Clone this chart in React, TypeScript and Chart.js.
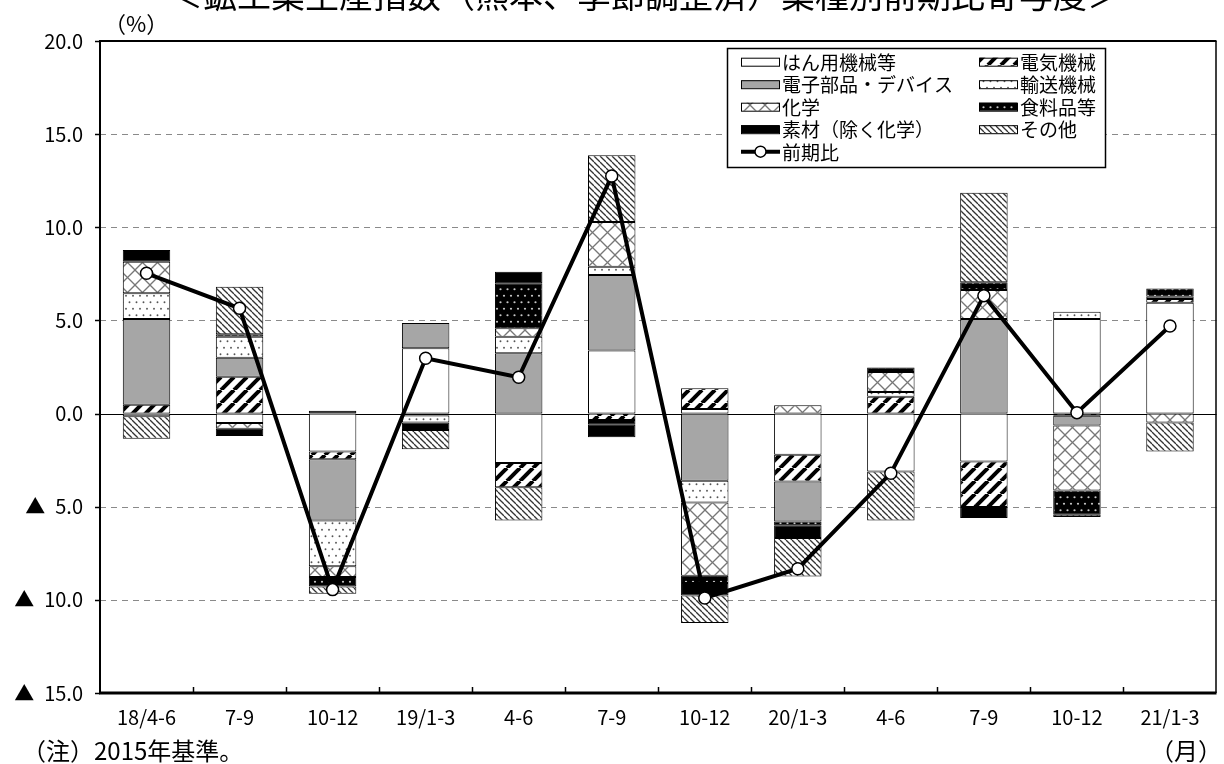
import React, { useEffect, useRef } from 'react';
import { Chart, registerables } from 'chart.js';

Chart.register(...registerables);

const FONT = '"Noto Sans CJK JP", "Noto Sans", sans-serif';

const categories = ['18/4-6', '7-9', '10-12', '19/1-3', '4-6', '7-9', '10-12', '20/1-3', '4-6', '7-9', '10-12', '21/1-3'];

const generalMachinery = [-0.15, -0.51, -2.04, 3.51, -2.66, 3.38, 0.24, -2.21, -3.11, -2.57, 5.08, 5.95];
const electrical = [0.47, 1.98, -0.41, -0.1, -1.29, -0.35, 1.12, -1.44, 0.9, -2.45, -0.12, 0.2];
const electronics = [4.61, 1.02, -3.29, 1.35, 3.24, 4.06, -3.61, -2.14, 0, 5.08, -0.52, 0];
const transport = [1.38, 1.13, -2.46, -0.38, 0.89, 0.44, -1.16, 0, 0.26, 0, 0.39, 0.12];
const chemicals = [1.69, -0.3, -0.57, 0, 0.45, 2.41, -3.93, 0.45, 1.07, 1.55, -3.49, -0.48];
const food = [0, 0.13, -0.51, 0, 2.41, -0.25, -0.39, -0.2, 0.24, 0.42, -1.3, 0.45];
const materials = [0.63, -0.4, 0.15, -0.4, 0.62, -0.67, -0.68, -0.69, 0, -0.59, 0, 0];
const others = [-1.2, 2.55, -0.39, -1.03, -1.79, 3.58, -1.47, -2.06, -2.63, 4.8, -0.12, -1.56];
const totalChange = [7.53, 5.65, -9.45, 2.97, 1.95, 12.75, -9.9, -8.33, -3.2, 6.33, 0.05, 4.7];

const seriesNames = ['はん用機械等', '電気機械', '電子部品・デバイス', '輸送機械', '化学', '食料品等', '素材（除く化学）', 'その他'];
const lineName = '前期比';
const yMin = -15;
const yMax = 20;
const yStep = 5;
const dashedGridValues = [15, 10, 5, -5, -10];

const titleText = '＜鉱工業生産指数（熊本、季節調整済）業種別前期比寄与度＞';
const unitText = '（%）';
const noteText = '（注）2015年基準。';
const monthText = '（月）';

type PatKind = 'white' | 'stripe' | 'gray' | 'dots' | 'cross' | 'darkdots' | 'black' | 'thin';

function makePattern(ctxRef: CanvasRenderingContext2D, kind: PatKind): CanvasPattern | string {
  if (kind === 'white') return '#ffffff';
  if (kind === 'gray') return '#a6a6a6';
  if (kind === 'black') return '#000000';
  const c = document.createElement('canvas');
  const g = c.getContext('2d') as CanvasRenderingContext2D;
  if (kind === 'stripe') {
    const s = 13;
    c.width = s; c.height = s;
    g.fillStyle = '#fff'; g.fillRect(0, 0, s, s);
    g.strokeStyle = '#000'; g.lineWidth = 4;
    for (const k of [-1, 0, 1]) {
      g.beginPath(); g.moveTo(k * s, s); g.lineTo(k * s + s, 0); g.stroke();
    }
  } else if (kind === 'thin') {
    const s = 6;
    c.width = s; c.height = s;
    g.fillStyle = '#fff'; g.fillRect(0, 0, s, s);
    g.strokeStyle = '#333'; g.lineWidth = 1.3;
    for (const k of [-1, 0, 1]) {
      g.beginPath(); g.moveTo(k * s, 0); g.lineTo(k * s + s, s); g.stroke();
    }
  } else if (kind === 'cross') {
    const s = 15;
    c.width = s; c.height = s;
    g.fillStyle = '#fff'; g.fillRect(0, 0, s, s);
    g.strokeStyle = '#777'; g.lineWidth = 1.3;
    for (const k of [-1, 0, 1]) {
      g.beginPath(); g.moveTo(k * s, 0); g.lineTo(k * s + s, s); g.stroke();
      g.beginPath(); g.moveTo(k * s, s); g.lineTo(k * s + s, 0); g.stroke();
    }
  } else if (kind === 'dots' || kind === 'darkdots') {
    const w = 7, h = 13;
    c.width = w; c.height = h;
    g.fillStyle = kind === 'dots' ? '#fff' : '#000';
    g.fillRect(0, 0, w, h);
    g.fillStyle = kind === 'dots' ? '#555' : '#c8c8c8';
    const r = kind === 'dots' ? 0.95 : 1.1;
    for (const [px, py] of [[3.5, 3.25], [0, 9.75], [7, 9.75]]) {
      g.beginPath(); g.arc(px, py, r, 0, Math.PI * 2); g.fill();
    }
  }
  return ctxRef.createPattern(c, 'repeat') as CanvasPattern;
}

const patternKinds: PatKind[] = ['white', 'stripe', 'gray', 'dots', 'cross', 'darkdots', 'black', 'thin'];
const seriesData = [generalMachinery, electrical, electronics, transport, chemicals, food, materials, others];

export default function App() {
  const ref = useRef<HTMLCanvasElement | null>(null);

  useEffect(() => {
    const canvas = ref.current;
    if (!canvas) return;
    const ctx0 = canvas.getContext('2d') as CanvasRenderingContext2D;
    const fills = patternKinds.map((k) => makePattern(ctx0, k));

    const barDatasets = seriesNames.map((name, i) => ({
      type: 'bar' as const,
      label: name,
      data: seriesData[i].map((v) => (v === 0 ? null : v)),
      backgroundColor: fills[i],
      borderColor: '#000',
      borderWidth: 1,
      borderSkipped: false,
      barPercentage: 0.51,
      categoryPercentage: 1,
      order: 1,
    }));

    const lineDataset = {
      type: 'line' as const,
      label: lineName,
      data: totalChange,
      borderColor: '#000',
      borderWidth: 4,
      pointRadius: 6,
      pointBackgroundColor: '#fff',
      pointBorderColor: '#000',
      pointBorderWidth: 1.5,
      fill: false,
      tension: 0,
      order: 0,
    };

    const framePlugin = {
      id: 'frame',
      beforeDatasetsDraw(chart: any) {
        const { ctx, chartArea: a, scales } = chart;
        const y = scales.y;
        ctx.save();
        ctx.strokeStyle = '#8a8a8a';
        ctx.lineWidth = 1.2;
        ctx.setLineDash([6, 5]);
        for (const v of dashedGridValues) {
          const py = Math.round(y.getPixelForValue(v)) + 0.5;
          ctx.beginPath(); ctx.moveTo(a.left, py); ctx.lineTo(a.right, py); ctx.stroke();
        }
        ctx.restore();
      },
      afterDatasetDraw(chart: any, args: any) {
        if (args.index !== seriesNames.length - 1) return;
        const { ctx, chartArea: a, scales } = chart;
        const py = Math.round(scales.y.getPixelForValue(0)) + 0.5;
        ctx.save();
        ctx.strokeStyle = '#000';
        ctx.lineWidth = 1.2;
        ctx.beginPath(); ctx.moveTo(a.left, py); ctx.lineTo(a.right, py); ctx.stroke();
        ctx.restore();
      },
      afterDraw(chart: any) {
        const { ctx, chartArea: a, scales } = chart;
        const x = scales.x;
        const y = scales.y;
        ctx.save();
        ctx.strokeStyle = '#000';
        ctx.lineWidth = 2;
        ctx.beginPath(); ctx.moveTo(a.left, a.top); ctx.lineTo(a.right, a.top); ctx.stroke();
        ctx.lineWidth = 1.5;
        ctx.beginPath(); ctx.moveTo(a.right - 0.5, a.top); ctx.lineTo(a.right - 0.5, a.bottom); ctx.stroke();
        ctx.lineWidth = 2;
        ctx.beginPath(); ctx.moveTo(a.left, a.top - 1); ctx.lineTo(a.left, a.bottom + 1); ctx.stroke();
        ctx.lineWidth = 3;
        ctx.beginPath(); ctx.moveTo(a.left - 1, a.bottom); ctx.lineTo(a.right, a.bottom); ctx.stroke();
        ctx.lineWidth = 1.5;
        for (let v = yMin; v <= yMax; v += yStep) {
          const py = Math.round(y.getPixelForValue(v)) + 0.5;
          ctx.beginPath(); ctx.moveTo(a.left - 5, py); ctx.lineTo(a.left, py); ctx.stroke();
        }
        for (let i = 0; i < categories.length - 1; i++) {
          const px = Math.round((x.getPixelForValue(i) + x.getPixelForValue(i + 1)) / 2) + 0.5;
          ctx.beginPath(); ctx.moveTo(px, a.bottom); ctx.lineTo(px, a.bottom - 6); ctx.stroke();
        }

        // legend box
        const lx = 727, ly = 48, lw = 378, lh = 119;
        ctx.fillStyle = '#fff';
        ctx.fillRect(lx, ly, lw, lh);
        ctx.lineWidth = 1.5;
        ctx.strokeRect(lx + 0.5, ly + 0.5, lw, lh);
        const rowY = [61.7, 84.2, 106.7, 129.2, 151.7];
        const colX = [741, 979];
        ctx.font = `19px ${FONT}`;
        ctx.textBaseline = 'middle';
        ctx.textAlign = 'left';
        seriesNames.forEach((name, i) => {
          const col = i % 2;
          const row = Math.floor(i / 2);
          const sx = colX[col];
          const sy = rowY[row];
          ctx.fillStyle = fills[i] as any;
          ctx.fillRect(sx, sy - 4, 38, 8);
          ctx.strokeStyle = '#000';
          ctx.lineWidth = 1;
          ctx.strokeRect(sx + 0.5, sy - 4 + 0.5, 38, 8);
          ctx.fillStyle = '#000';
          ctx.fillText(name, sx + 41, sy + 1);
        });
        {
          const sx = colX[0];
          const sy = rowY[4];
          ctx.strokeStyle = '#000';
          ctx.lineWidth = 4;
          ctx.beginPath(); ctx.moveTo(sx, sy); ctx.lineTo(sx + 39, sy); ctx.stroke();
          ctx.beginPath(); ctx.arc(sx + 19.5, sy, 5.5, 0, Math.PI * 2);
          ctx.fillStyle = '#fff'; ctx.fill();
          ctx.lineWidth = 1.5; ctx.stroke();
          ctx.fillStyle = '#000';
          ctx.fillText(lineName, sx + 41, sy + 1);
        }

        ctx.fillStyle = '#000';
        ctx.textAlign = 'left';
        ctx.textBaseline = 'middle';
        ctx.font = `22px ${FONT}`;
        ctx.fillText(unitText, 104, 24);
        ctx.font = `24px ${FONT}`;
        ctx.fillText(noteText, 22, 751);
        ctx.textAlign = 'right';
        ctx.fillText(monthText, 1222, 751);

        ctx.font = `34px ${FONT}`;
        ctx.textAlign = 'center';
        ctx.textBaseline = 'alphabetic';
        ctx.fillText(titleText, 645, 8);
        ctx.restore();
      },
    };

    const chart = new Chart(canvas, {
      data: {
        labels: categories,
        datasets: [...barDatasets, lineDataset] as any,
      },
      options: {
        responsive: true,
        maintainAspectRatio: false,
        animation: false,
        layout: { padding: { top: 41, right: 1, left: 0, bottom: 0 } },
        plugins: {
          legend: { display: false },
          tooltip: { enabled: false },
        },
        scales: {
          x: {
            stacked: true,
            offset: true,
            grid: { display: false, drawTicks: false },
            border: { display: false },
            ticks: {
              color: '#000',
              font: { family: FONT, size: 20 },
              padding: 12,
              maxRotation: 0,
              autoSkip: false,
            },
            afterFit: (s: any) => { s.height = 71; },
          },
          y: {
            stacked: true,
            min: yMin,
            max: yMax,
            grid: { display: false, drawTicks: false },
            border: { display: false },
            ticks: {
              stepSize: yStep,
              color: '#000',
              font: { family: FONT, size: 20 },
              padding: 17,
              callback: (v: any) => {
                const n = Number(v);
                return n < 0 ? '▲\u2002' + Math.abs(n).toFixed(1) : n.toFixed(1);
              },
            },
            afterFit: (s: any) => { s.width = 100; },
          },
        },
      },
      plugins: [framePlugin],
    });

    return () => chart.destroy();
  }, []);

  return (
    <div style={{ position: 'absolute', left: 0, top: 0, width: 1224, height: 764, background: '#fff' }}>
      <canvas ref={ref} />
    </div>
  );
}
